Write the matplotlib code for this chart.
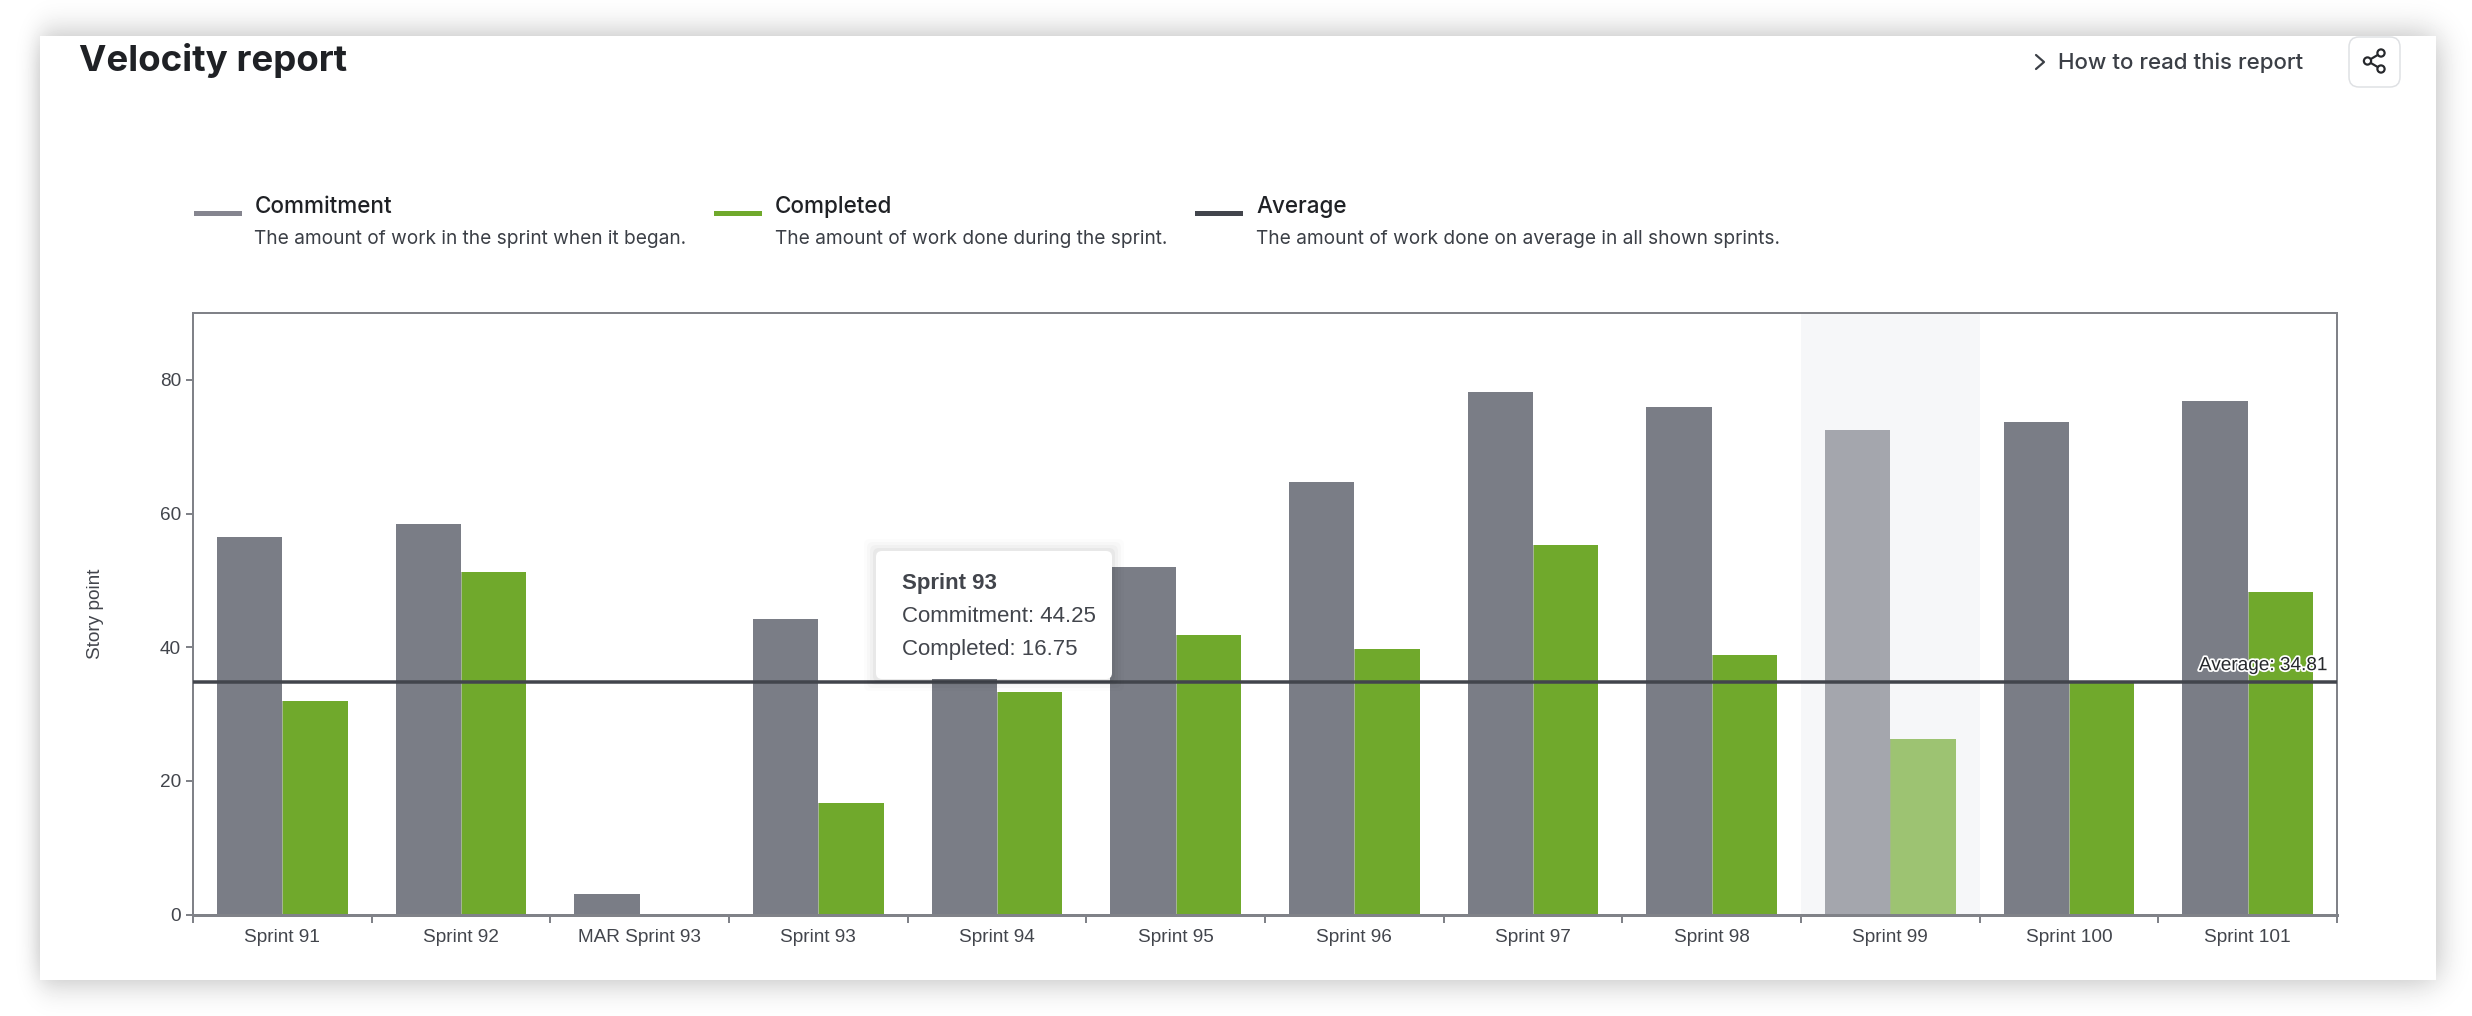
import math
import numpy as np
import matplotlib
matplotlib.use("Agg")
import matplotlib.pyplot as plt
from matplotlib.patches import FancyBboxPatch, Rectangle, Circle
import matplotlib.patheffects as pe

# data
sprints = ["Sprint 91", "Sprint 92", "MAR Sprint 93", "Sprint 93", "Sprint 94", "Sprint 95",
           "Sprint 96", "Sprint 97", "Sprint 98", "Sprint 99", "Sprint 100", "Sprint 101"]
commitment = [56.5, 58.5, 3.0, 44.25, 36.0, 52.0, 64.7, 78.2, 76.0, 72.5, 73.7, 76.8]
completed = [32.0, 51.2, 0.0, 16.75, 33.25, 41.8, 39.7, 55.3, 38.8, 26.2, 34.8, 48.2]
average = 34.81
y_ticks = [0, 20, 40, 60, 80]
highlight = 9

legend_titles = ["Commitment", "Completed", "Average"]
legend_texts = ["The amount of work in the sprint when it began.",
                "The amount of work done during the sprint.",
                "The amount of work done on average in all shown sprints."]

GREY = "#7a7d86"
GREEN = "#70a92c"
DARK = "#42454c"
AXIS = "#808288"
W, H = 2472, 1016
UI_FONT = ["Inter", "DejaVu Sans"]
CHART_FONT = ["Liberation Sans", "DejaVu Sans"]

fig = plt.figure(figsize=(W / 100, H / 100), dpi=100, facecolor="white")


def px(v):
    # css pixels to points
    return v * 72 / 100


def edge(v, pos, sigma):
    # soft step used for the card shadow
    return 0.5 * (1 + np.vectorize(math.erf)((v - pos) / (sigma * 2**0.5)))


# 1. card shadow behind everything
bg = fig.add_axes([0, 0, 1, 1], zorder=0)
xx = np.arange(W) + 0.5
yy = np.arange(H) + 0.5
sx = edge(xx, 40, 11) - edge(xx, 2436, 16)
sy = edge(yy, 36, 17) - edge(yy, 980, 17)
shadow = 1 - 0.3 * np.outer(sy, sx)
bg.imshow(shadow, cmap="gray", vmin=0, vmax=1, extent=[0, W, H, 0], aspect="auto")
bg.add_patch(Rectangle((40, 36), 2396, 944, fc="white", ec="none"))
bg.set_xlim(0, W)
bg.set_ylim(H, 0)
bg.axis("off")

# 2. chart
ax = fig.add_axes([193 / W, (H - 914.5) / H, (2337 - 193) / W, (914.5 - 313) / H], zorder=1)
ax.set_facecolor("none")
x = np.arange(len(sprints))
bar_w = 0.365
ax.axvspan(highlight - 0.5, highlight + 0.5, color="#f6f7f9", lw=0, zorder=0)
for i in x:
    a = 0.66 if i == highlight else 1
    ax.bar(i - bar_w / 2, commitment[i], bar_w, color=GREY, alpha=a, lw=0, zorder=2)
    ax.bar(i + bar_w / 2, completed[i], bar_w, color=GREEN, alpha=a, lw=0, zorder=2)
    # thin light seam where the two bars touch
    ax.plot([i, i], [0, min(commitment[i], completed[i])], color="#a4b592", lw=px(1), alpha=a, zorder=2.5)
ax.axhline(average, color=DARK, lw=px(3.5), zorder=3)
ax.text(len(sprints) - 0.5 - 0.055, average + 1.15, "Average: " + str(average), ha="right", va="bottom",
        fontsize=px(19), family=CHART_FONT, color="#26282c", zorder=4,
        path_effects=[pe.withStroke(linewidth=px(3.5), foreground="white")])

ax.set_xlim(-0.5, len(sprints) - 0.5)
ax.set_ylim(0, 90)
ax.set_xticks(np.arange(len(sprints) + 1) - 0.5)
ax.set_xticklabels([])
ax.set_xticks(x, minor=True)
ax.set_xticklabels(sprints, minor=True, fontsize=px(19), family=CHART_FONT, color=DARK)
ax.tick_params(axis="x", which="major", length=px(8), width=px(2), color=AXIS)
ax.tick_params(axis="x", which="minor", length=0, pad=px(14))
ax.set_yticks(y_ticks)
ax.set_yticklabels([str(v) for v in y_ticks], fontsize=px(19), family=CHART_FONT, color=DARK)
ax.tick_params(axis="y", length=px(7), width=px(2), color=AXIS, pad=px(5))
for s in ax.spines.values():
    s.set_color(AXIS)
    s.set_linewidth(px(2))
ax.spines["bottom"].set_linewidth(px(3))
ax.set_ylabel("Story point", fontsize=px(19), family=CHART_FONT, color=DARK)
ax.yaxis.set_label_coords((104 - 193) / (2337 - 193), 0.5)

# 3. header, legend and tooltip in screen pixels
ui = fig.add_axes([0, 0, 1, 1], zorder=2)
ui.set_xlim(0, W)
ui.set_ylim(H, 0)
ui.axis("off")
ui.patch.set_alpha(0)

ui.text(79, 61, "Velocity report", fontsize=px(36.7), family=UI_FONT, weight="bold", color="#1f2125", va="center")
ui.text(2058, 63, "How to read this report", fontsize=px(22.3), family=UI_FONT, weight="medium", color="#3b3f46", va="center")
ui.plot([2036, 2044, 2036], [55, 62, 69], color="#3b3f46", lw=px(2.2), solid_capstyle="round")

# share button
ui.add_patch(FancyBboxPatch((2359, 47), 31, 30, boxstyle="round,pad=10,rounding_size=10",
                            fc="white", ec="#dfe1e4", lw=px(1.5)))
nodes = [(2381, 53), (2367.5, 61), (2381, 69)]
ui.plot([nodes[0][0], nodes[1][0], nodes[2][0]], [nodes[0][1], nodes[1][1], nodes[2][1]],
        color="#26282c", lw=px(2.2))
for n in nodes:
    ui.add_patch(Circle(n, 3.6, fc="white", ec="#26282c", lw=px(2.2), zorder=3))

# legend
swatch_x = [194, 714, 1195]
text_x = [254.5, 775, 1256]
swatch_c = ["#85858f", GREEN, DARK]
for i in range(3):
    ui.add_patch(Rectangle((swatch_x[i], 211), 48, 5, fc=swatch_c[i], ec="none"))
    ui.text(text_x[i], 207, legend_titles[i], fontsize=px(22.5), family=UI_FONT, weight="medium", color="#1f2125", va="center")
    ui.text(text_x[i], 239, legend_texts[i], fontsize=px(19.1), family=UI_FONT, color="#3b3f46", va="center")

# tooltip
for grow, al in [(12, 0.012), (9, 0.018), (6, 0.025), (3, 0.035)]:
    ui.add_patch(FancyBboxPatch((882 - grow, 557 - grow), 224 + 2 * grow, 116 + 2 * grow,
                                boxstyle="round,pad=6,rounding_size=6", fc="black", ec="none", alpha=al, zorder=5))
ui.add_patch(FancyBboxPatch((882, 557), 224, 116, boxstyle="round,pad=6,rounding_size=6",
                            fc="white", ec="none", zorder=6))
ui.text(902, 583, "Sprint 93", fontsize=px(22.3), family=CHART_FONT, weight="bold", color=DARK, va="center", zorder=7)
ui.text(902, 616, "Commitment: " + str(commitment[3]), fontsize=px(22.3), family=CHART_FONT, color=DARK, va="center", zorder=7)
ui.text(902, 649, "Completed: " + str(completed[3]), fontsize=px(22.3), family=CHART_FONT, color=DARK, va="center", zorder=7)

fig.savefig("out.png", dpi=100)
